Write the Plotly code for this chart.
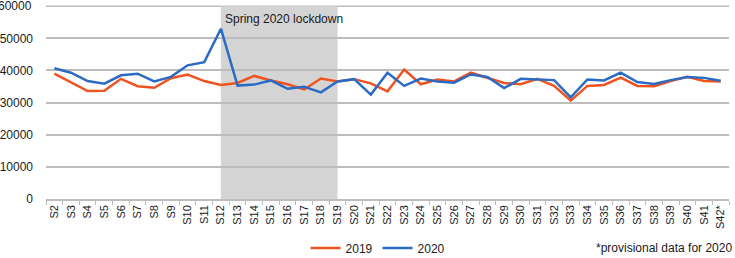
import plotly.graph_objects as go

weeks = ["S%d" % i for i in range(2, 42)] + ["S42*"]

deaths_2019 = [39000, 36300, 33600, 33700, 37400, 35100, 34600, 37600, 38750, 36700,
               35500, 36100, 38300, 36900, 35700, 34100, 37500, 36600, 37300, 36000,
               33500, 40300, 35700, 37200, 36600, 39300, 37800, 36100, 35700, 37400,
               35200, 30600, 35200, 35500, 37800, 35200, 35100, 36700, 38000, 36700,
               36600]

deaths_2020 = [40700, 39300, 36700, 35900, 38500, 39000, 36600, 38000, 41600, 42600,
               53000, 35300, 35600, 36900, 34300, 34900, 33200, 36600, 37300, 32500,
               39300, 35200, 37500, 36600, 36200, 38750, 38000, 34500, 37400, 37200,
               37000, 31600, 37200, 36900, 39300, 36400, 35800, 37000, 38000, 37700,
               36800]

y_ticks = [0, 10000, 20000, 30000, 40000, 50000, 60000]
lockdown_start = "S12"
lockdown_end = "S19"
lockdown_label = "Spring 2020 lockdown"
note = "*provisional data for 2020"

FONT = "Liberation Sans, Arial, sans-serif"
ORANGE = "#EF531F"
BLUE = "#2C6BC5"
GRID = "#bdbdbd"

fig = go.Figure()
fig.add_trace(go.Scatter(x=weeks, y=deaths_2019, mode="lines", name="2019",
                         line=dict(color=ORANGE, width=2.5)))
fig.add_trace(go.Scatter(x=weeks, y=deaths_2020, mode="lines", name="2020",
                         line=dict(color=BLUE, width=2.5)))

fig.add_shape(type="rect", xref="x", yref="y",
              x0=weeks.index(lockdown_start), x1=weeks.index(lockdown_end),
              y0=0, y1=y_ticks[-1], fillcolor="#d4d4d4", line_width=0, layer="below")

# top gridline + label (plotly drops it at the plot edge)
fig.add_shape(type="line", xref="paper", yref="y", x0=0, x1=1,
              y0=y_ticks[-1], y1=y_ticks[-1], line=dict(color=GRID, width=1.5),
              layer="below")
fig.add_annotation(x=0, y=y_ticks[-1], xref="paper", yref="y", text=str(y_ticks[-1]),
                   showarrow=False, xanchor="right", yanchor="middle", xshift=-12,
                   font=dict(family=FONT, size=12, color="#1a1a1a"))

fig.add_annotation(x=weeks.index(lockdown_start), y=y_ticks[-1], xref="x", yref="y",
                   text=lockdown_label, showarrow=False, xanchor="left", yanchor="top",
                   xshift=2, yshift=-4, font=dict(family=FONT, size=12, color="#1a1a1a"))

fig.add_annotation(x=1.008, y=-0.25, xref="paper", yref="paper", text=note,
                   showarrow=False, xanchor="right", yanchor="middle",
                   font=dict(family=FONT, size=12, color="#1a1a1a"))

fig.update_layout(
    width=735, height=258,
    margin=dict(l=46, r=6, t=3, b=59, autoexpand=False),
    paper_bgcolor="white", plot_bgcolor="white",
    font=dict(family=FONT, size=12, color="#1a1a1a"),
    showlegend=True,
    legend=dict(orientation="h", x=0.38, y=-0.25, xanchor="left", yanchor="middle",
                font=dict(family=FONT, size=12, color="#1a1a1a"),
                bgcolor="rgba(0,0,0,0)", itemwidth=30, tracegroupgap=0),
)

fig.update_xaxes(type="category", range=[-0.5, len(weeks) - 0.5], automargin=False,
                 tickangle=-90, tickson="boundaries", ticks="outside", ticklen=4,
                 tickcolor=GRID, showline=True, linecolor=GRID, linewidth=1.5,
                 showgrid=False, tickfont=dict(family=FONT, size=11, color="#1a1a1a"),
                 fixedrange=True)
fig.update_yaxes(range=[0, 61000], tickvals=y_ticks[:-1],
                 ticktext=[str(v) for v in y_ticks[:-1]],
                 automargin=False,
                 showgrid=True, gridcolor=GRID, gridwidth=1.5, zeroline=False,
                 showline=False, ticks="", ticklabelstandoff=12,
                 tickfont=dict(family=FONT, size=12, color="#1a1a1a"))

fig.write_html("out.html", config={"displayModeBar": False},
               post_script="document.body.style.margin='0';document.body.style.overflow='hidden';")
